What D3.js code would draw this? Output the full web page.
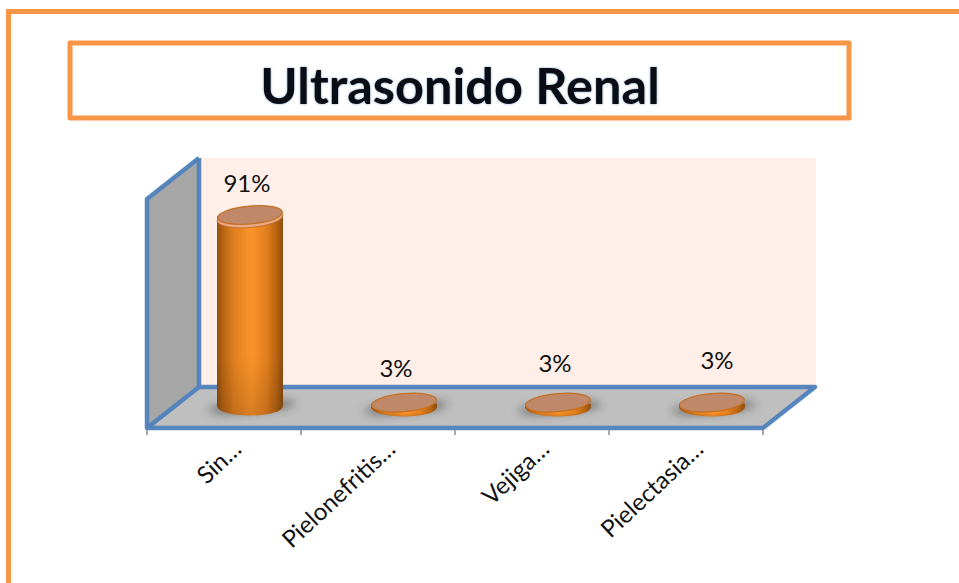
<!DOCTYPE html>
<html><head><meta charset="utf-8">
<script src="https://cdn.jsdelivr.net/npm/d3@7/dist/d3.min.js"></script>
<style>html,body{margin:0;padding:0;background:#fff;overflow:hidden}svg{display:block}text{font-family:Lato,"Open Sans",sans-serif}</style>
</head><body>
<script>
const categories = ["Sin…","Pielonefritis…","Vejiga…","Pielectasia…"];
const percents = [91,3,3,3];
const labelNudge = [[-3,0],[-8,-3],[-3,-8],[5,-11]];

const W=959,H=583;
const svg=d3.select("body").append("svg").attr("width",W).attr("height",H);
const defs=svg.append("defs");

const cyl=defs.append("linearGradient").attr("id","cyl");
[[0,"#8f4e12"],[0.08,"#b5620f"],[0.25,"#e07f1f"],[0.52,"#fb9328"],[0.75,"#e37f1e"],[0.92,"#b2600f"],[1,"#8a4c12"]]
 .forEach(([o,c])=>cyl.append("stop").attr("offset",o).attr("stop-color",c));
const cylV=defs.append("linearGradient").attr("id","cylFade").attr("x1",0).attr("x2",0).attr("y1",0).attr("y2",1);
[[0,"#000",0],[0.7,"#000",0],[1,"#000",0.14]].forEach(([o,c,a])=>cylV.append("stop").attr("offset",o).attr("stop-color",c).attr("stop-opacity",a));
defs.append("filter").attr("id","soft").attr("x","-40%").attr("y","-80%").attr("width","180%").attr("height","260%")
  .append("feGaussianBlur").attr("stdDeviation",5);
defs.append("filter").attr("id","titleBlur").attr("x","-5%").attr("y","-20%").attr("width","110%").attr("height","140%")
  .append("feGaussianBlur").attr("stdDeviation",1);

// page frame
const orange="#f79646";
svg.append("path").attr("d","M8.5 583V11.5H959").attr("fill","none").attr("stroke",orange).attr("stroke-width",5);
// title
svg.append("rect").attr("x",70).attr("y",43).attr("width",779).attr("height",75)
  .attr("fill","#fff").attr("stroke",orange).attr("stroke-width",5).attr("stroke-linejoin","round");
const titleG=svg.append("g").attr("text-anchor","middle").attr("font-size",50.5).attr("font-weight",700);
titleG.append("text").attr("x",460).attr("y",104).attr("fill","#4f81bd").attr("opacity",.7).attr("filter","url(#titleBlur)").text("Ultrasonido Renal");
titleG.append("text").attr("x",460).attr("y",103.5).attr("fill","#0a0d14").text("Ultrasonido Renal");

// chart geometry
const x=d3.scaleBand().domain(categories).range([147,763]);
const y=d3.scaleLinear().domain([0,108]).range([428,199]);
const depthX=52, depthY=-41;
const bx0=147,bx1=763,floorY=y(0),wallTop=y(108);
const blue="#4f81bd";

// back wall
svg.append("rect").attr("x",bx0+depthX).attr("y",wallTop+depthY).attr("width",bx1-bx0+1)
  .attr("height",floorY-wallTop).attr("fill","#ffefe8");
// left wall
svg.append("path").attr("d",d3.line()([[bx0,floorY],[bx0,wallTop],[bx0+depthX,wallTop+depthY],[bx0+depthX,floorY+depthY]]))
  .attr("fill","#a6a6a6");
// floor
svg.append("path").attr("d",d3.line()([[bx0,floorY],[bx1,floorY],[bx1+depthX,floorY+depthY],[bx0+depthX,floorY+depthY]])+"Z")
  .attr("fill","#bfbfbf");
// edges
svg.append("path").attr("fill","none").attr("stroke",blue).attr("stroke-width",4.5).attr("stroke-linejoin","round").attr("opacity",.95)
  .attr("d",d3.line()([[bx0+depthX,wallTop+depthY],[bx0,wallTop],[bx0,floorY],[bx1,floorY],[bx1+depthX,floorY+depthY],[bx0+depthX,floorY+depthY],[bx0,floorY]])
   +d3.line()([[bx0+depthX,wallTop+depthY],[bx0+depthX,floorY+depthY]]));

// ticks
const tickVals=[...categories.map(c=>x(c)),bx1];
svg.append("g").selectAll("line").data(tickVals).join("line")
  .attr("x1",d=>d).attr("x2",d=>d).attr("y1",floorY+2).attr("y2",floorY+7)
  .attr("stroke","#8c8c8c").attr("stroke-width",1.5);

// bars
const rx=33, ry=9.5, tilt=-5, centerDX=26, baseDY=-19;
const cx=c=>x(c)+x.bandwidth()/2+centerDX;
const data=categories.map((c,i)=>({c,v:percents[i],i}));
const g=svg.append("g").selectAll("g").data(data).join("g");
g.each(function(d){
  const s=d3.select(this), X=cx(d.c), small=d.v<10, base=y(0)+baseDY+(small?1:0), h=y(0)-y(d.v), top=base-h;
  const t=`rotate(${tilt} ${X} `;
  // shadow
  s.append("ellipse").attr("cx",X+2).attr("cy",base-2).attr("rx",rx+(small?9:11)).attr("ry",ry*0.55)
    .attr("transform",t+`${base})`).attr("fill","#333").attr("opacity",.6).attr("filter","url(#soft)");
  // body
  const body=`M${X-rx} ${top}V${base-3}A${rx} ${ry} 0 0 0 ${X+rx} ${base-3}V${top}Z`;
  s.append("path").attr("d",body).attr("fill","url(#cyl)");
  s.append("path").attr("d",body).attr("fill","url(#cylFade)");
  // rim & lid
  if(!small) s.append("ellipse").attr("cx",X).attr("cy",top+2).attr("rx",rx).attr("ry",ry)
    .attr("transform",t+`${top+2})`).attr("fill","#e9a783").attr("stroke","#b9682a").attr("stroke-width",.8);
  s.append("ellipse").attr("cx",X).attr("cy",top-1).attr("rx",rx-.5).attr("ry",ry-.5)
    .attr("transform",t+`${top-1})`).attr("fill","#bf8868").attr("stroke","#c56f22").attr("stroke-width",1.2);
  // value label
  s.append("text").attr("x",X+labelNudge[d.i][0]).attr("y",top-24+labelNudge[d.i][1])
    .attr("text-anchor","middle").attr("font-size",24).attr("fill","#111").text(d.v+"%");
});

// category labels
svg.append("g").selectAll("text").data(categories).join("text")
  .attr("transform",c=>`translate(${x(c)+x.bandwidth()/2+19},${floorY+23}) rotate(-43)`)
  .attr("text-anchor","end").attr("font-size",24).attr("fill","#111").text(c=>c);
</script>
</body></html>
